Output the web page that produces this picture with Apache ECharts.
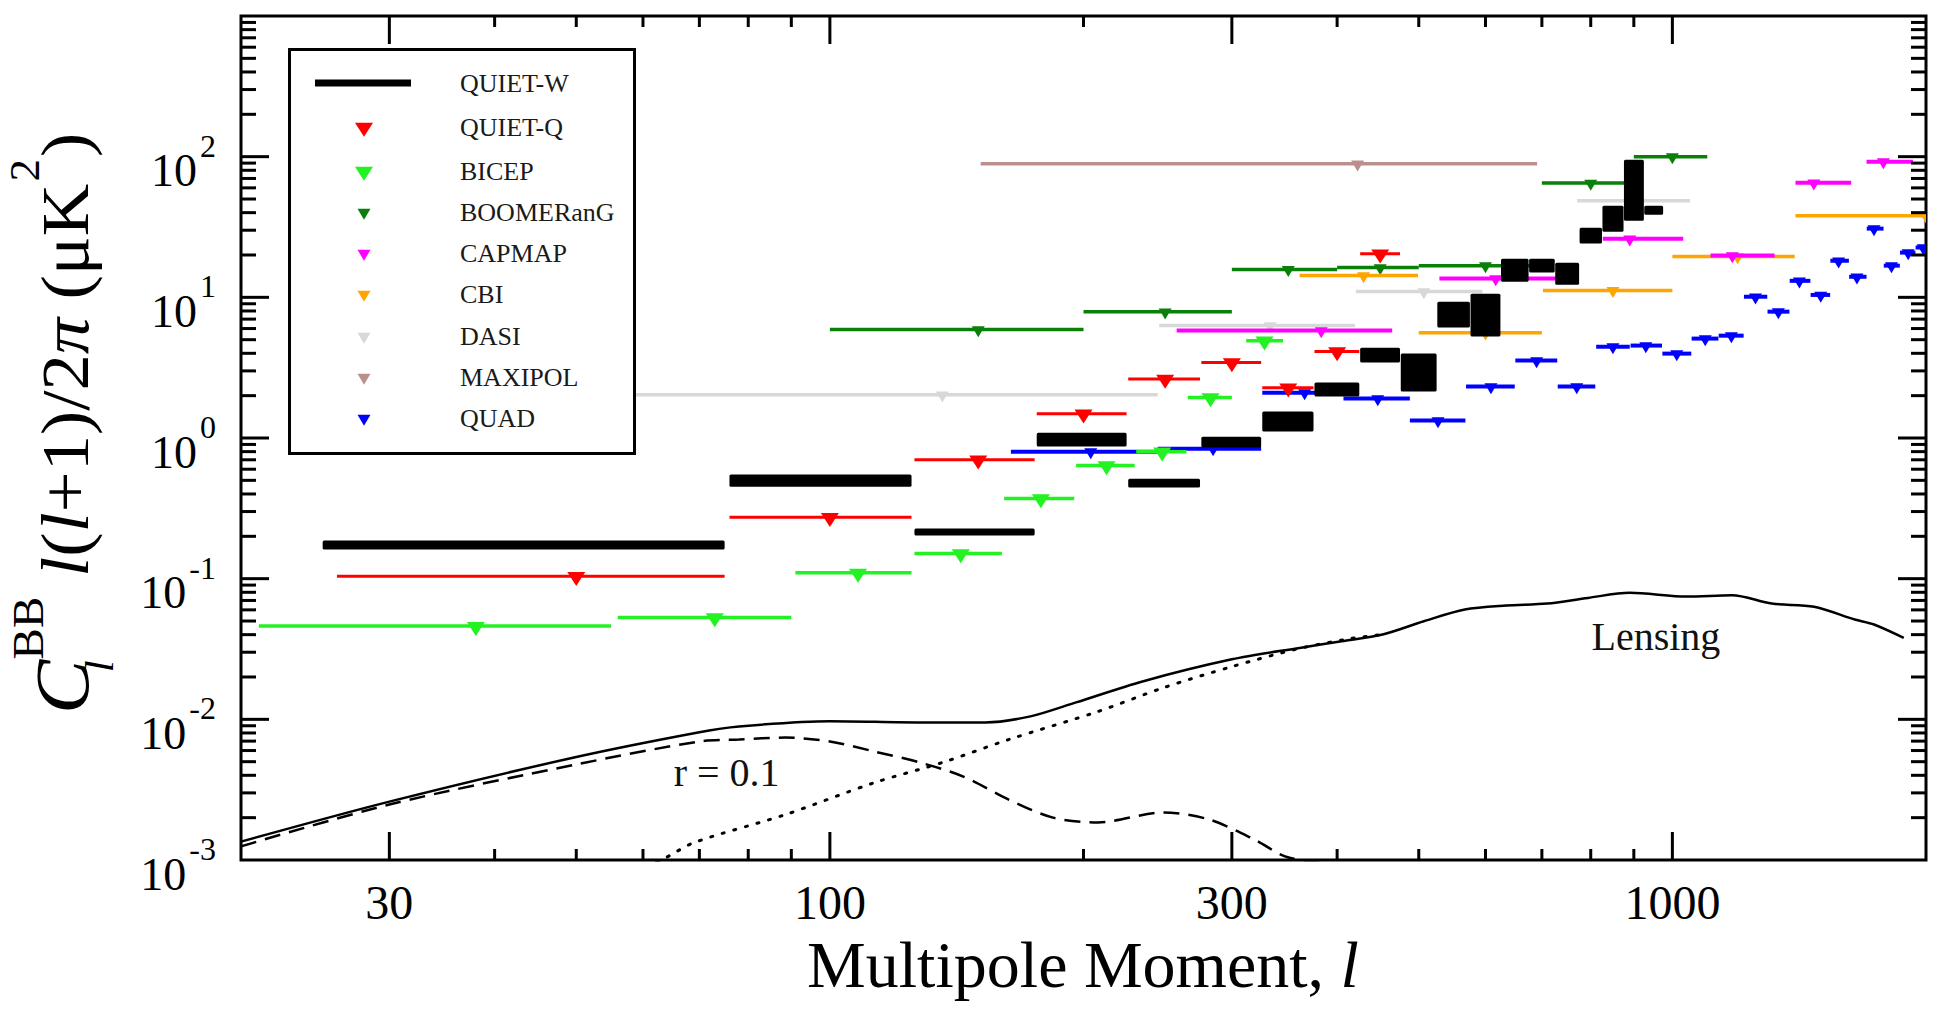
<!DOCTYPE html>
<html>
<head>
<meta charset="utf-8">
<script src="https://cdn.jsdelivr.net/npm/echarts@6/dist/echarts.min.js"></script>
<style>html,body{margin:0;padding:0;background:#fff;}#c{width:1944px;height:1013px;}</style>
</head>
<body>
<div id="c"></div>
<script>
// ---------- axis ranges & ticks ----------
const X_MIN = 20, X_MAX = 2000, Y_MIN = 1e-3, Y_MAX = 1e3;
const xLabelTicks = [30, 100, 300, 1000];
const xMinorTicks = [40, 50, 60, 70, 80, 90, 200, 400, 500, 600, 700, 800, 900];
const yLabelExps = [-3, -2, -1, 0, 1, 2];
const yMajorExps = [-2, -1, 0, 1, 2];
const yMinorMults = [2, 3, 4, 5, 6, 7, 8, 9];
const yMinorExps = [-3, -2, -1, 0, 1, 2];

// ---------- theory curves [l, value] ----------
const lensingPlusR = [[20,1.35e-3],[30,2.6e-3],[50,5.4e-3],[70,8.1e-3],[78,8.9e-3],[100,9.7e-3],[128,9.5e-3],[153,9.5e-3],[173,0.0105],[196,0.0132],[235,0.0186],[300,0.0267],[361,0.0322],[405,0.0359],[453,0.0401],[507,0.0498],[567,0.0603],[635,0.0644],[710,0.0665],[794,0.073],[890,0.0793],[1040,0.0746],[1177,0.0762],[1312,0.0665],[1473,0.0631],[1646,0.0512],[1735,0.0472],[1882,0.0379]];
const tensorR01 = [[20,1.25e-3],[30,2.48e-3],[50,4.78e-3],[70,6.96e-3],[78,7.18e-3],[88.5,7.42e-3],[100,6.96e-3],[113,5.9e-3],[128,4.93e-3],[144,3.92e-3],[163,2.69e-3],[184,2.0e-3],[208,1.85e-3],[249,2.18e-3],[282,1.94e-3],[319,1.4e-3],[347,1.06e-3],[380,9.6e-4],[420,9.3e-4]];
const lensingOnly = [[55,7.5e-4],[63,1.0e-3],[69,1.33e-3],[88.5,2.1e-3],[113,3.55e-3],[136,4.93e-3],[163,7.18e-3],[208,0.01136],[249,0.0168],[300,0.0237],[360,0.0318],[415,0.0375],[453,0.0401]];

// ---------- upper limits [l_min, l_marker, l_max, value] ----------
const quietQ = [[26,50,75,0.104],[76,100,125,0.273],[126,150,175,0.70],[176,200,225,1.49],[226,250,275,2.63],[276,300,325,3.44],[326,350,375,2.28],[376,400,425,4.12],[426,450,475,20.4]];
const bicep = [[21,38,55,0.046],[56,73,90,0.053],[91,108,125,0.11],[126,143,160,0.151],[161,178,195,0.371],[196,213,230,0.637],[231,248,265,0.80],[266,283,300,1.94],[312,328,345,4.92]];
const boomerang = [[100,150,200,5.9],[200,250,300,7.9],[300,350,400,15.8],[400,450,500,16.3],[500,600,700,16.8],[700,800,900,65],[900,1000,1100,100]];
const capmap = [[258,383,465,5.8],[529,617,731,13.6],[827,890,1030,26.1],[1110,1178,1322,19.8],[1400,1472,1630,65.3],[1700,1780,1930,92.2]];
const cbi = [[361,430,499,14.3],[500,600,700,5.6],[702,850,1000,11.2],[1000,1195,1397,19.5],[1400,2000,2600,38]];
const dasi = [[28,136,245,2.03],[246,333,420,6.3],[421,507,595,11.0],[771,910,1049,48.6]];
const maxipol = [[151,423,691,89]];
const quad = [[164,204,245,0.80],[245,285,325,0.84],[326,366,407,2.10],[407,447,488,1.91],[488,527,568,1.33],[569,609,650,2.32],[651,690,730,3.55],[731,770,810,2.32],[812,850,890,4.46],[892,930,972,4.54],[973,1012,1053,3.98],[1054,1094,1134,5.09],[1135,1175,1215,5.34],[1216,1255,1296,10.1],[1297,1336,1377,7.91],[1378,1415,1458,13.1],[1459,1500,1539,10.4],[1540,1575,1620,18.2],[1621,1656,1700,14.0],[1701,1735,1781,30.8],[1782,1820,1862,16.8],[1863,1905,1943,20.8],[1944,1985,2024,22.6]];

// ---------- QUIET-W boxes [l_min, l_max, low, high] ----------
const quietW = [[25,75,0.161,0.187],[76,125,0.45,0.55],[126,175,0.203,0.227],[176,225,0.87,1.09],[226,275,0.444,0.514],[276,325,0.855,1.02],[326,375,1.11,1.54],[376,425,1.97,2.48],[426,475,3.44,4.39],[476,525,2.14,3.98],[526,575,6.1,9.3],[576,625,5.26,10.6],[626,675,12.9,18.8],[676,725,15.0,18.8],[726,775,12.3,17.6],[776,825,24.1,31.3],[826,875,29.3,44.8],[876,925,35.1,95],[926,975,38.7,44.8]];

// ---------- annotations ----------
const annoText = ['r = 0.1', 'Lensing'];
const annoL = [75.4, 956];
const annoV = [4.19e-3, 0.0388];

const legendNames = ['QUIET-W','QUIET-Q','BICEP','BOOMERanG','CAPMAP','CBI','DASI','MAXIPOL','QUAD'];

// ---------- styles ----------
const FONT = 'Liberation Serif';
const sty = {
  'QUIET-Q':  {color:'#ff0000', lw:3,   tw:18, th:14},
  'BICEP':    {color:'#22f222', lw:3.5, tw:18, th:14},
  'BOOMERanG':{color:'#0a800a', lw:3.5, tw:13, th:11},
  'CAPMAP':   {color:'#ff00ff', lw:4,   tw:13, th:11},
  'CBI':      {color:'#ffa500', lw:3.5, tw:13, th:11},
  'DASI':     {color:'#d8d8d8', lw:3.5, tw:13, th:11},
  'MAXIPOL':  {color:'#bc8f8f', lw:3.5, tw:13, th:11},
  'QUAD':     {color:'#0000ff', lw:4,   tw:13, th:11}
};
const limitData = {'QUIET-Q':quietQ,'BICEP':bicep,'BOOMERanG':boomerang,'CAPMAP':capmap,'CBI':cbi,'DASI':dasi,'MAXIPOL':maxipol,'QUAD':quad};

function tri(cx, cy, w, h) {
  return [[cx - w/2, cy - 0.3*h], [cx + w/2, cy - 0.3*h], [cx, cy + 0.7*h]];
}
function clampX(v) { return Math.max(X_MIN, Math.min(X_MAX, v)); }

function limitRenderer(name) {
  const s = sty[name];
  return function (params, api) {
    const lo = clampX(api.value(0)), c = api.value(1), hi = clampX(api.value(2)), v = api.value(3);
    const p1 = api.coord([lo, v]), p2 = api.coord([hi, v]), pc = api.coord([c, v]);
    return {type:'group', children:[
      {type:'line', shape:{x1:p1[0], y1:p1[1], x2:p2[0], y2:p2[1]}, style:{stroke:s.color, lineWidth:s.lw}},
      {type:'polygon', shape:{points: tri(pc[0], pc[1], s.tw, s.th)}, style:{fill:s.color}}
    ]};
  };
}

function boxRender(params, api) {
  const a = api.coord([api.value(0), api.value(3)]);
  const b = api.coord([api.value(1), api.value(2)]);
  return {type:'rect', shape:{x:a[0], y:a[1], width:b[0]-a[0], height:b[1]-a[1], r:1.5}, style:{fill:'#000'}};
}

// tick specs
const tickSpecs = [];
xLabelTicks.forEach(v => tickSpecs.push({ax:'x', v:v, major:true, label:true}));
xMinorTicks.forEach(v => tickSpecs.push({ax:'x', v:v, major:false}));
yLabelExps.forEach(e => tickSpecs.push({ax:'y', v:Math.pow(10,e), major:yMajorExps.indexOf(e) >= 0, label:true, e:e}));
yMinorExps.forEach(e => yMinorMults.forEach(m => tickSpecs.push({ax:'y', v:m*Math.pow(10,e), major:false})));

function axisRender(params, api) {
  const t = tickSpecs[params.dataIndex];
  const ch = [];
  if (t.ax === 'x') {
    const b = api.coord([t.v, Y_MIN]), tp = api.coord([t.v, Y_MAX]);
    const L = t.major ? 28 : 11;
    ch.push({type:'line', shape:{x1:b[0], y1:b[1], x2:b[0], y2:b[1]-L}, style:{stroke:'#000', lineWidth:3}});
    ch.push({type:'line', shape:{x1:tp[0], y1:tp[1], x2:tp[0], y2:tp[1]+L}, style:{stroke:'#000', lineWidth:3}});
    if (t.label) {
      ch.push({type:'text', x:b[0], y:b[1]+42, style:{text:String(t.v), fontFamily:FONT, fontSize:48, fill:'#000', align:'center', verticalAlign:'middle'}});
    }
  } else {
    const l = api.coord([X_MIN, t.v]), r = api.coord([X_MAX, t.v]);
    if (t.major || !t.label) {
      const L = t.major ? 28 : 15;
      ch.push({type:'line', shape:{x1:l[0], y1:l[1], x2:l[0]+L, y2:l[1]}, style:{stroke:'#000', lineWidth:3}});
      ch.push({type:'line', shape:{x1:r[0], y1:r[1], x2:r[0]-L, y2:r[1]}, style:{stroke:'#000', lineWidth:3}});
    }
    if (t.label) {
      ch.push({type:'text', x:l[0]-25, y:l[1]+5, style:{
        text:'{b|10}{s|' + t.e + '}', fill:'#000', align:'right', verticalAlign:'middle',
        rich:{
          b:{fontFamily:FONT, fontSize:46, fill:'#000', padding:[18,0,0,0]},
          s:{fontFamily:FONT, fontSize:32, fill:'#000', verticalAlign:'top', padding:[0,0,0,3]}
        }
      }});
    }
  }
  return {type:'group', children:ch};
}

function annoRender(params, api) {
  const i = params.dataIndex;
  const p = api.coord([annoL[i], annoV[i]]);
  return {type:'text', x:p[0], y:p[1], style:{text:annoText[i], fontFamily:FONT, fontSize:40, fill:'#111', align:'center', verticalAlign:'middle'}};
}

const series = [
  {name:'Lensing + r=0.1', type:'line', data:lensingPlusR, smooth:0.3, symbol:'none', silent:true, z:2,
   lineStyle:{color:'#000', width:2.5}},
  {name:'r = 0.1', type:'line', data:tensorR01, smooth:0.3, symbol:'none', silent:true, z:2,
   lineStyle:{color:'#000', width:2.5, type:[16,9]}},
  {name:'Lensing', type:'line', data:lensingOnly, smooth:0.3, symbol:'none', silent:true, z:2,
   lineStyle:{color:'#000', width:3, type:[2,10], cap:'round'}}
];
['MAXIPOL','DASI','BOOMERanG','CBI','CAPMAP','QUAD','BICEP','QUIET-Q'].forEach(n => {
  series.push({name:n, type:'custom', coordinateSystem:'cartesian2d', renderItem:limitRenderer(n),
    data:limitData[n], encode:{x:[0,1,2], y:3}, clip:true, silent:true, z:3});
});
series.push({name:'QUIET-W', type:'custom', coordinateSystem:'cartesian2d', renderItem:boxRender,
  data:quietW, encode:{x:[0,1], y:[2,3]}, clip:true, silent:true, z:4});
series.push({name:'axes', type:'custom', coordinateSystem:'cartesian2d', renderItem:axisRender,
  data:tickSpecs.map(t => [t.ax === 'x' ? t.v : 100, t.ax === 'y' ? t.v : 1]), silent:true, z:5});
series.push({name:'notes', type:'custom', coordinateSystem:'cartesian2d', renderItem:annoRender,
  data:annoL.map((l, i) => [l, annoV[i]]), silent:true, z:5});

// ---------- legend (drawn box) ----------
const LG = {x:288, y:48, w:348, h:407, iconX:364, lineX:315, lineW:96, textX:460};
const legendRowY = [83, 127, 171, 212, 253, 294, 336, 377, 418];
const graphics = [{type:'rect', z:100, shape:{x:LG.x+1.5, y:LG.y+1.5, width:LG.w-3, height:LG.h-3},
  style:{fill:'#fff', stroke:'#000', lineWidth:3}}];
legendNames.forEach((n, i) => {
  const yc = legendRowY[i];
  if (n === 'QUIET-W') {
    graphics.push({type:'rect', z:101, shape:{x:LG.lineX, y:yc-3.5, width:LG.lineW, height:7}, style:{fill:'#000'}});
  } else {
    const s = sty[n];
    graphics.push({type:'polygon', z:101, shape:{points:tri(LG.iconX, yc, s.tw, s.th)}, style:{fill:s.color}});
  }
  graphics.push({type:'text', z:101, x:LG.textX, y:yc, style:{text:n, fontFamily:FONT, fontSize:26, fill:'#1a1a1a', align:'left', verticalAlign:'middle'}});
});

// axis titles
graphics.push({type:'text', z:50, x:1083, y:964, style:{
  text:'{n|Multipole Moment, }{i|l}', fill:'#000', align:'center', verticalAlign:'middle',
  rich:{n:{fontFamily:FONT, fontSize:66, fill:'#000'}, i:{fontFamily:FONT, fontSize:66, fontStyle:'italic', fill:'#000'}}
}});
graphics.push({type:'group', z:50, x:88, y:714, rotation:Math.PI/2, scaleX:1.07, children:[
  {type:'text', x:0, y:-25.6, style:{text:'C', fontFamily:FONT, fontStyle:'italic', fontSize:76, fill:'#000', align:'left', verticalAlign:'middle'}},
  {type:'text', x:51, y:-60, style:{text:'BB', fontFamily:FONT, fontSize:44, fill:'#000', align:'left', verticalAlign:'middle'}},
  {type:'text', x:39, y:11.5, style:{text:'l', fontFamily:FONT, fontStyle:'italic', fontSize:40, fill:'#000', align:'left', verticalAlign:'middle'}},
  {type:'text', x:128, y:-36.5, style:{text:'{i|l}{n|(}{i|l}{n|+1)/2}{i|π}{n| (μK}{s|2}{n|)}', fill:'#000', align:'left', verticalAlign:'middle',
    rich:{
      n:{fontFamily:FONT, fontSize:68, fill:'#000', padding:[27,0,0,0]},
      i:{fontFamily:FONT, fontSize:68, fontStyle:'italic', fill:'#000', padding:[27,0,0,0]},
      s:{fontFamily:FONT, fontSize:42, fill:'#000', verticalAlign:'top', padding:[0,2,0,2]}
    }}}
]});

const chart = echarts.init(document.getElementById('c'), null, {renderer:'svg', width:1944, height:1013});
chart.setOption({
  animation:false,
  backgroundColor:'#ffffff',
  grid:{left:241, top:16, width:1685, height:844, show:true, borderColor:'#000', borderWidth:3, backgroundColor:'transparent'},
  xAxis:{type:'log', logBase:10, min:X_MIN, max:X_MAX, axisLine:{show:false}, axisTick:{show:false}, axisLabel:{show:false}, splitLine:{show:false}, minorTick:{show:false}},
  yAxis:{type:'log', logBase:10, min:Y_MIN, max:Y_MAX, axisLine:{show:false}, axisTick:{show:false}, axisLabel:{show:false}, splitLine:{show:false}, minorTick:{show:false}},
  series:series,
  graphic:graphics
});
</script>
</body>
</html>
